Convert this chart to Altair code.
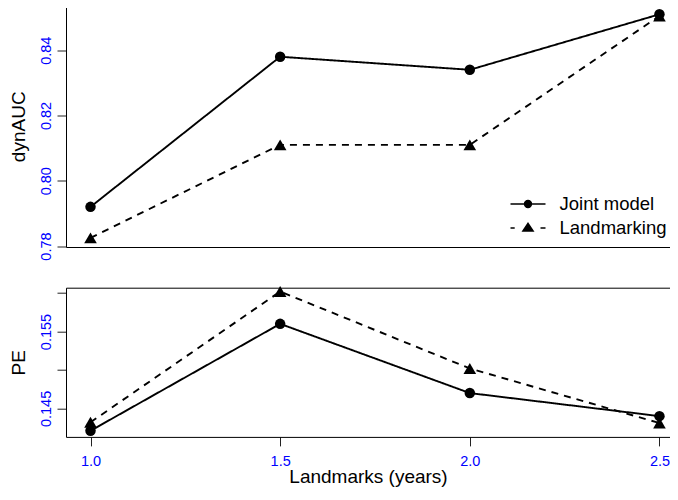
import altair as alt
import pandas as pd

# ---- data ----
landmarks = [1.0, 1.5, 2.0, 2.5]
series_names = ["Joint model", "Landmarking"]
auc_joint = [0.792, 0.838, 0.834, 0.851]
auc_landmark = [0.7825, 0.811, 0.811, 0.8505]
pe_joint = [0.1421, 0.1560, 0.1470, 0.1440]
pe_landmark = [0.1432, 0.1602, 0.1502, 0.1431]

auc_ticks = [0.78, 0.79, 0.80, 0.81, 0.82, 0.83, 0.84, 0.85]
pe_ticks = [0.145, 0.150, 0.155, 0.160]
x_ticks = [1.0, 1.5, 2.0, 2.5]

FONT = "Liberation Sans"
BLUE = "#0000FF"
PLOT_W = 604

PATH_JOINT = ("M-1.75,0H1.75M0.34,0A0.34,0.34,0,1,1,-0.34,0"
              "A0.34,0.34,0,1,1,0.34,0Z")
PATH_LAND = "M-1.75,0H-1.33M1.25,0H1.75M0,-0.45L0.5,0.3L-0.5,0.3Z"


def long_df(a, b):
    return pd.DataFrame({
        "landmark": landmarks + landmarks,
        "value": a + b,
        "series": [series_names[0]] * len(a) + [series_names[1]] * len(b),
    })


df_auc = long_df(auc_joint, auc_landmark)
df_pe = long_df(pe_joint, pe_landmark)

x_scale = alt.Scale(domain=[0.9354, 2.5278], nice=False, zero=False)


def frame_axis(orient):
    return alt.Axis(orient=orient, labels=False, ticks=False, title=None,
                    grid=False, domain=True, domainColor="black",
                    domainWidth=1)


def y_axis(title, values, label_expr):
    return alt.Axis(values=values, labelExpr=label_expr, title=title,
                    grid=False, domainColor="black", domainWidth=1,
                    tickColor="#222222", tickSize=9, tickWidth=1,
                    labelColor=BLUE, labelFont=FONT, labelFontSize=14.5,
                    labelAngle=270, labelAlign="center",
                    labelBaseline="bottom", labelPadding=3.5,
                    labelOverlap=False, labelFlush=False,
                    titleFont=FONT, titleFontSize=19,
                    titleFontWeight="normal", titleColor="black",
                    titleAngle=270, titleBaseline="alphabetic", titleX=-42)


def panel(df, y_domain, y_ax, bottom_axis, height, legend_layer):
    line = alt.Chart(df).mark_line(color="black", strokeWidth=1.9).encode(
        x=alt.X("landmark:Q", scale=x_scale, axis=bottom_axis),
        y=alt.Y("value:Q",
                scale=alt.Scale(domain=y_domain, nice=False, zero=False),
                axis=y_ax),
        strokeDash=alt.StrokeDash(
            "series:N",
            scale=alt.Scale(domain=series_names, range=[[1, 0], [7, 6]]),
            legend=None),
    )
    pts = alt.Chart(df).mark_point(filled=True, color="black",
                                   opacity=1).encode(
        x=alt.X("landmark:Q", scale=x_scale, axis=frame_axis("top")),
        y=alt.Y("value:Q"),
        shape=alt.Shape(
            "series:N",
            scale=alt.Scale(domain=series_names,
                            range=["circle", "triangle-up"]),
            legend=None),
        size=alt.Size(
            "series:O",
            scale=alt.Scale(domain=series_names, range=[110, 160]),
            legend=None),
    )
    layers = [line, pts]
    if legend_layer:
        leg = alt.Chart(df).transform_filter("false").mark_point(
            filled=False, color="black", fill="black", fillOpacity=1,
            opacity=1, strokeWidth=1.6).encode(
            x=alt.X("landmark:Q", scale=x_scale, axis=None),
            y=alt.Y("value:Q"),
            shape=alt.Shape(
                "series:N",
                scale=alt.Scale(domain=series_names,
                                range=[PATH_JOINT, PATH_LAND]),
                legend=alt.Legend(
                    title=None, orient="none", legendX=451, legendY=187.5,
                    padding=0, labelFont=FONT, labelFontSize=18.5,
                    labelColor="black", symbolSize=400, labelOffset=20.5,
                    rowPadding=3, symbolStrokeWidth=1.6)),
        )
        layers.append(leg)
    return alt.layer(*layers).resolve_scale(
        shape="independent", size="independent"
    ).resolve_axis(x="independent").properties(width=PLOT_W, height=height)


top = panel(
    df_auc, [0.7797, 0.8537],
    y_axis("dynAUC", auc_ticks,
           "round(datum.value*100) % 2 == 0 ? format(datum.value, '.2f') : ''"),
    frame_axis("bottom"), 241.5, True)

bottom_x_axis = alt.Axis(
    orient="bottom", values=x_ticks, format=".1f", grid=False,
    domainColor="black", domainWidth=1, tickColor="#222222", tickSize=9,
    tickWidth=1, labelColor=BLUE, labelFont=FONT, labelFontSize=14.5,
    labelPadding=9, labelFlush=False, title="Landmarks (years)",
    titleFont=FONT, titleFontSize=19, titleFontWeight="normal",
    titleColor="black", titleBaseline="alphabetic", titleY=46)

bottom = panel(
    df_pe, [0.1413, 0.1607],
    y_axis("PE", pe_ticks,
           "round(datum.value*1000) % 10 == 5 ? format(datum.value, '.3f') : ''"),
    bottom_x_axis, 149.2, False)

chart = alt.vconcat(top, bottom, spacing=25.2).resolve_scale(
    shape="independent", size="independent", strokeDash="independent",
    x="independent", y="independent"
).properties(
    padding={"left": 1, "top": -2.5, "right": 0, "bottom": 0}
).configure_view(strokeWidth=0)

chart.save("out.html", embed_options={"renderer": "svg", "actions": False})
